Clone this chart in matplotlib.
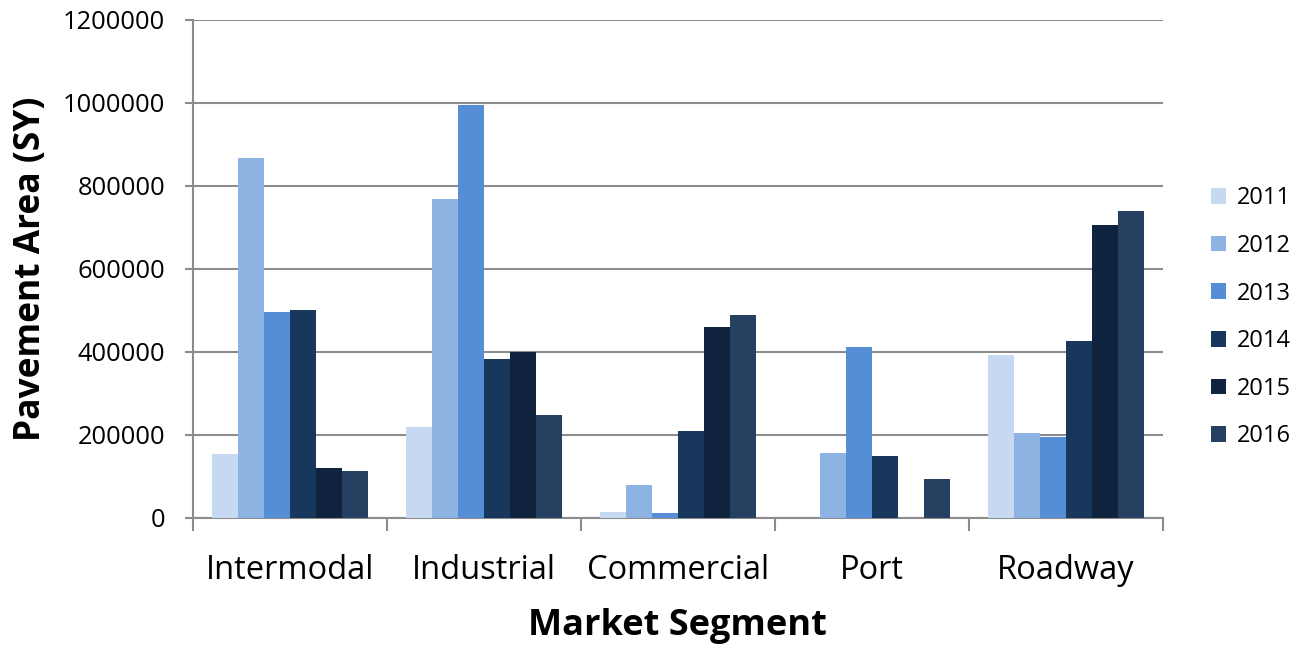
import numpy as np
import matplotlib.pyplot as plt

plt.rcParams['font.family'] = ['Open Sans', 'DejaVu Sans']

# Pavement area by market segment and year
segments = ["Intermodal", "Industrial", "Commercial", "Port", "Roadway"]
years = ["2011", "2012", "2013", "2014", "2015", "2016"]
area_2011 = [155000, 219000, 14500, 0, 392000]
area_2012 = [867000, 769000, 80000, 157000, 205000]
area_2013 = [497000, 994000, 12000, 413000, 195000]
area_2014 = [502000, 382000, 209000, 150000, 427000]
area_2015 = [121000, 401000, 460000, 0, 706000]
area_2016 = [112000, 249000, 490000, 93000, 739000]
series = [area_2011, area_2012, area_2013, area_2014, area_2015, area_2016]
colors = ["#C6D9F0", "#8DB3E2", "#558ED5", "#17375D", "#10243F", "#254061"]

fig = plt.figure(figsize=(12.95, 6.45), dpi=100)
ax = fig.add_axes([0.149, 0.197, 0.749, 0.772])

x = np.arange(len(segments))
width = 0.8 / len(years)
for i, (yr, vals) in enumerate(zip(years, series)):
    offset = (i - (len(years) - 1) / 2) * width
    ax.bar(x + offset, vals, width, color=colors[i], label=yr, zorder=3)

ax.set_xlim(-0.5, len(segments) - 0.5)
ax.set_ylim(0, 1200000)
ax.set_yticks(range(0, 1200001, 200000))
ax.set_yticklabels([str(v) for v in range(0, 1200001, 200000)])
ax.set_xticks(x)
ax.set_xticklabels(segments)
ax.set_xticks(np.arange(-0.5, len(segments), 1), minor=True)

grid_col = "#8C8C8C"
ax.grid(axis="y", color=grid_col, linewidth=1.5, zorder=0)
for side in ["top", "right"]:
    ax.spines[side].set_visible(False)
ax.spines["left"].set_color(grid_col)
ax.spines["left"].set_linewidth(1.5)
ax.spines["bottom"].set_color(grid_col)
ax.spines["bottom"].set_linewidth(1.5)

ax.tick_params(axis="y", length=6, width=1.5, color=grid_col, labelsize=18.4, pad=14)
ax.tick_params(axis="x", which="major", length=0, labelsize=23.5, pad=26)
ax.tick_params(axis="x", which="minor", length=9, width=1.5, color=grid_col)

ax.set_ylabel("Pavement Area (SY)", fontsize=25.5, fontweight="bold", labelpad=10)
ax.set_xlabel("Market Segment", fontsize=26, fontweight="bold", labelpad=15)

ax.legend(loc="upper left", bbox_to_anchor=(1.04, 0.685), frameon=False,
          fontsize=17, labelspacing=1.0, handlelength=0.65, handleheight=0.65,
          handletextpad=0.45, borderaxespad=0)

fig.savefig("out.png", dpi=100)
